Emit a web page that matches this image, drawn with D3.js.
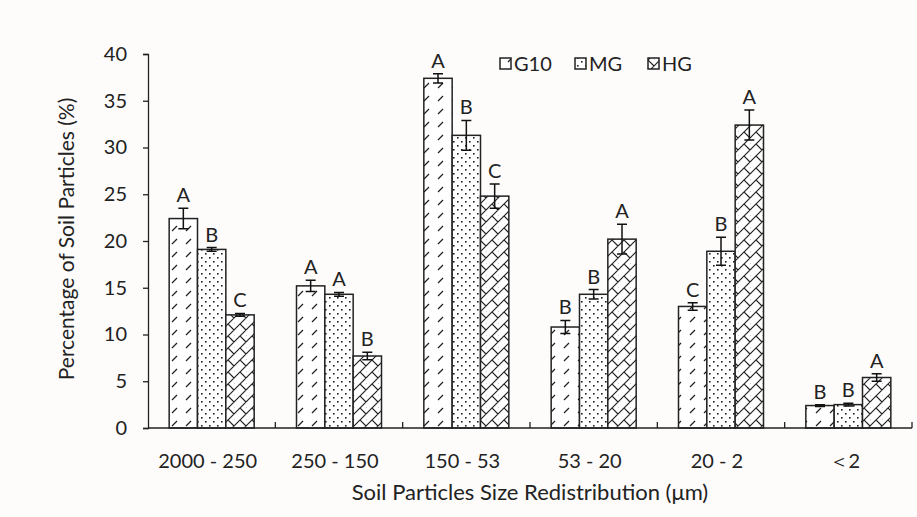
<!DOCTYPE html>
<html>
<head>
<meta charset="utf-8">
<script src="https://cdn.jsdelivr.net/npm/d3@7"></script>
<style>
  body { margin: 0; background: #fdfcfb; }
  svg { font-family: Lato, "Open Sans", sans-serif; }
</style>
</head>
<body>
<div id="chart"></div>
<script>
const categories = ["2000 - 250", "250 - 150", "150 - 53", "53 - 20", "20 - 2", "\uFF1C2"];
const seriesNames = ["G10", "MG", "HG"];
const g10 = [22.4, 15.2, 37.4, 10.8, 13.0, 2.4];
const mg  = [19.1, 14.3, 31.3, 14.3, 18.9, 2.5];
const hg  = [12.1, 7.7, 24.8, 20.2, 32.4, 5.4];
const g10Err = [1.1, 0.6, 0.5, 0.7, 0.4, 0.1];
const mgErr  = [0.2, 0.2, 1.6, 0.5, 1.5, 0.15];
const hgErr  = [0.15, 0.4, 1.3, 1.6, 1.6, 0.4];
const g10Sig = ["A", "A", "A", "B", "C", "B"];
const mgSig  = ["B", "A", "B", "B", "B", "B"];
const hgSig  = ["C", "B", "C", "A", "A", "A"];
const yTicks = [0, 5, 10, 15, 20, 25, 30, 35, 40];

const values = [g10, mg, hg], errs = [g10Err, mgErr, hgErr], sigs = [g10Sig, mgSig, hgSig];

const width = 917, height = 517;
const margin = {top: 54, right: 5, bottom: 89, left: 148};

const svg = d3.select("#chart").append("svg")
    .attr("width", width)
    .attr("height", height);

// fill patterns
const defs = svg.append("defs");
const pG10 = defs.append("pattern").attr("id", "pat-G10")
    .attr("patternUnits", "userSpaceOnUse").attr("width", 14).attr("height", 13);
pG10.append("rect").attr("width", 14).attr("height", 13).attr("fill", "#fff");
pG10.append("line").attr("x1", 4).attr("y1", 10).attr("x2", 9).attr("y2", 5)
    .attr("stroke", "#222").attr("stroke-width", 1.3);

const pMG = defs.append("pattern").attr("id", "pat-MG")
    .attr("patternUnits", "userSpaceOnUse").attr("width", 8).attr("height", 8);
pMG.append("rect").attr("width", 8).attr("height", 8).attr("fill", "#fff");
pMG.append("rect").attr("x", 1).attr("y", 1).attr("width", 1.6).attr("height", 1.6).attr("fill", "#222");
pMG.append("rect").attr("x", 5).attr("y", 5).attr("width", 1.6).attr("height", 1.6).attr("fill", "#222");

const pHG = defs.append("pattern").attr("id", "pat-HG")
    .attr("patternUnits", "userSpaceOnUse").attr("width", 12).attr("height", 12);
pHG.append("rect").attr("width", 12).attr("height", 12).attr("fill", "#fff");
pHG.append("path").attr("d", "M0,12 L12,0 M-3,3 L3,-3 M9,15 L15,9 M0,0 L6,6 M6,12 L12,18 M6,-6 L12,0")
    .attr("stroke", "#222").attr("stroke-width", 1.2).attr("fill", "none");

const x0 = d3.scaleBand()
    .domain(categories)
    .range([margin.left, width - margin.right])
    .padding(0);

const groupW = 85;
const x1 = d3.scaleBand()
    .domain(seriesNames)
    .range([(x0.bandwidth() - groupW) / 2, (x0.bandwidth() + groupW) / 2])
    .padding(0);

const y = d3.scaleLinear()
    .domain([0, 40])
    .range([height - margin.bottom, margin.top]);

// bars
seriesNames.forEach((s, si) => {
  const g = svg.append("g").attr("class", "series-" + s);
  const rows = categories.map((c, i) => ({c, v: values[si][i], e: errs[si][i], sig: sigs[si][i]}));

  g.selectAll("rect")
    .data(rows)
    .enter().append("rect")
    .attr("x", d => x0(d.c) + x1(s))
    .attr("y", d => y(d.v))
    .attr("width", x1.bandwidth())
    .attr("height", d => y(0) - y(d.v))
    .attr("fill", `url(#pat-${s})`)
    .attr("stroke", "#222")
    .attr("stroke-width", 1.5);

  const cx = d => x0(d.c) + x1(s) + x1.bandwidth() / 2;
  g.selectAll(".err")
    .data(rows)
    .enter().append("path")
    .attr("class", "err")
    .attr("d", d => {
      const t = y(d.v + d.e), b = y(d.v - d.e), x = cx(d);
      return `M${x - 5},${t}H${x + 5}M${x},${t}V${b}M${x - 5},${b}H${x + 5}`;
    })
    .attr("stroke", "#111")
    .attr("stroke-width", 1.5)
    .attr("fill", "none");

  g.selectAll(".sig")
    .data(rows)
    .enter().append("text")
    .attr("class", "sig")
    .attr("x", cx)
    .attr("y", d => y(d.v + d.e) - 6)
    .attr("text-anchor", "middle")
    .attr("font-size", 20)
    .attr("fill", "#222")
    .text(d => d.sig);
});

// y axis
const yAxis = svg.append("g")
    .attr("transform", `translate(${margin.left},0)`)
    .call(d3.axisLeft(y).tickValues(yTicks).tickSize(5).tickPadding(16));
yAxis.selectAll("text").attr("font-size", 20).attr("fill", "#222").attr("font-family", "Lato, sans-serif");
yAxis.selectAll("line, path").attr("stroke", "#222").attr("stroke-width", 1.3);

// x axis: baseline with upward ticks at category boundaries
const xAxis = svg.append("g");
xAxis.append("line")
    .attr("x1", margin.left).attr("x2", width - margin.right)
    .attr("y1", y(0)).attr("y2", y(0))
    .attr("stroke", "#222").attr("stroke-width", 1.3);
xAxis.selectAll(".tk")
    .data(categories.slice(1).map(c => x0(c)).concat([x0.range()[1]]))
    .enter().append("line")
    .attr("x1", d => d).attr("x2", d => d)
    .attr("y1", y(0)).attr("y2", y(0) - 6)
    .attr("stroke", "#222").attr("stroke-width", 1.3);
xAxis.selectAll(".lbl")
    .data(categories)
    .enter().append("text")
    .attr("x", d => x0(d) + x0.bandwidth() / 2 - 4)
    .attr("y", y(0) + 40)
    .attr("text-anchor", "middle")
    .attr("font-size", 20)
    .attr("fill", "#222")
    .text(d => d);

// axis titles
svg.append("text")
    .attr("x", 530).attr("y", 500)
    .attr("text-anchor", "middle")
    .attr("font-size", 22)
    .attr("fill", "#222")
    .text("Soil Particles Size Redistribution (\u03BCm)");

svg.append("text")
    .attr("transform", `translate(74,${(margin.top + y(0)) / 2 - 2}) rotate(-90)`)
    .attr("text-anchor", "middle")
    .attr("font-size", 21)
    .attr("fill", "#222")
    .text("Percentage of Soil Particles (%)");

// legend
const legendX = [500, 575, 648];
const legend = svg.append("g");
seriesNames.forEach((s, i) => {
  legend.append("rect")
    .attr("x", legendX[i]).attr("y", 58)
    .attr("width", 11).attr("height", 11)
    .attr("fill", `url(#pat-${s})`)
    .attr("stroke", "#222").attr("stroke-width", 1.5);
  legend.append("text")
    .attr("x", legendX[i] + 14).attr("y", 71)
    .attr("font-size", 20)
    .attr("fill", "#222")
    .text(s);
});
</script>
</body>
</html>
